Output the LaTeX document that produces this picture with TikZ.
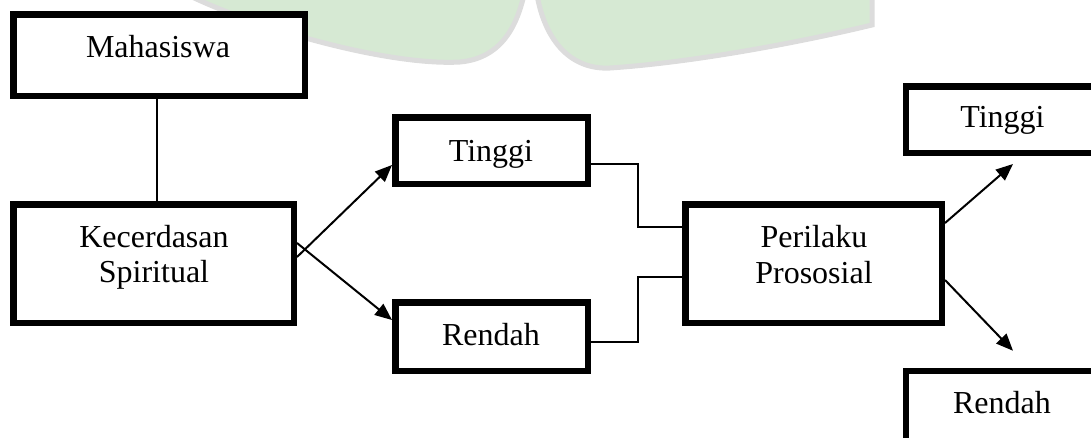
\documentclass[tikz,border=0pt]{standalone}
\usepackage{fontspec}
\setmainfont{Liberation Serif}
\usetikzlibrary{arrows.meta}
\definecolor{wmgreen}{RGB}{214,233,211}
\definecolor{wmgray}{RGB}{220,220,220}
\tikzset{
  box/.style={draw=black, line width=6.5pt, fill=white, inner sep=0pt},
  lbl/.style={anchor=base, inner sep=0pt, font=\fontsize{32}{36}\selectfont},
  link/.style={line width=1.6pt},
  arr/.style={line width=2pt, -{Triangle[length=17pt,width=14pt]}},
}
\begin{document}
\begin{tikzpicture}[x=1pt,y=-1pt]
\useasboundingbox (0,0) rectangle (1091,437);
\clip (0,0) rectangle (1091,437);
% faint watermark
\fill[wmgreen, draw=wmgray, line width=5pt] (188,-5) .. controls (260,30) and (390,66) .. (460,62) .. controls (505,58) and (518,20) .. (524,-5) -- cycle;
\fill[wmgreen, draw=wmgray, line width=5pt] (537,-5) .. controls (545,40) and (570,70) .. (610,68) .. controls (700,62) and (810,40) .. (872,25) -- (872,-5) -- cycle;
% boxes
\node[box, minimum width=291.5pt, minimum height=81.5pt] (mhsbox) at (159,55) {};
\node[box, minimum width=280.5pt, minimum height=118.5pt] (kecbox) at (153.5,263.5) {};
\node[box, minimum width=192.5pt, minimum height=66.5pt] (tmbox) at (491.5,150.5) {};
\node[box, minimum width=192.5pt, minimum height=68.5pt] (rmbox) at (491.5,336.5) {};
\node[box, minimum width=256.5pt, minimum height=118.5pt] (ppbox) at (813.5,263.5) {};
\node[box, minimum width=240pt, minimum height=66.5pt] (rtbox) at (1026,119.5) {};
\node[box, minimum width=240pt, minimum height=80pt] (rrbox) at (1026,411) {};
% texts
\node[lbl] (mhs) at (158,57) {Mahasiswa};
\node[lbl] (kec1) at (154,247) {Kecerdasan};
\node[lbl] (kec2) at (154,282) {Spiritual};
\node[lbl] (tm) at (491,161) {Tinggi};
\node[lbl] (rm) at (491,345) {Rendah};
\node[lbl] (pp1) at (814,247) {Perilaku};
\node[lbl] (pp2) at (814,283) {Prososial};
\node[lbl] (rt) at (1002.5,127) {Tinggi};
\node[lbl] (rr) at (1002,413) {Rendah};
% connectors
\draw[line width=1.8pt] ([xshift=-2pt]mhsbox.south) -- ([xshift=-2pt]mhsbox.south |- kecbox.north);
\draw[arr] ([yshift=6.5pt]kecbox.east) -- ([yshift=-14.5pt]tmbox.west);
\draw[arr] ([yshift=20.5pt]kecbox.east) -- ([yshift=16.5pt]rmbox.west);
\draw[link] ([yshift=-13.5pt]tmbox.east) -- ++(47,0) |- ([yshift=36.5pt]ppbox.west);
\draw[link] ([yshift=-5.5pt]rmbox.east) -- ++(47,0) |- ([yshift=-13.5pt]ppbox.west);
\draw[arr] ([yshift=40.5pt]ppbox.east) -- ([xshift=-13pt,yshift=-8pt]rtbox.south);
\draw[arr] ([yshift=-16.5pt]ppbox.east) -- ([xshift=-13pt,yshift=17pt]rrbox.north);
\end{tikzpicture}
\end{document}
